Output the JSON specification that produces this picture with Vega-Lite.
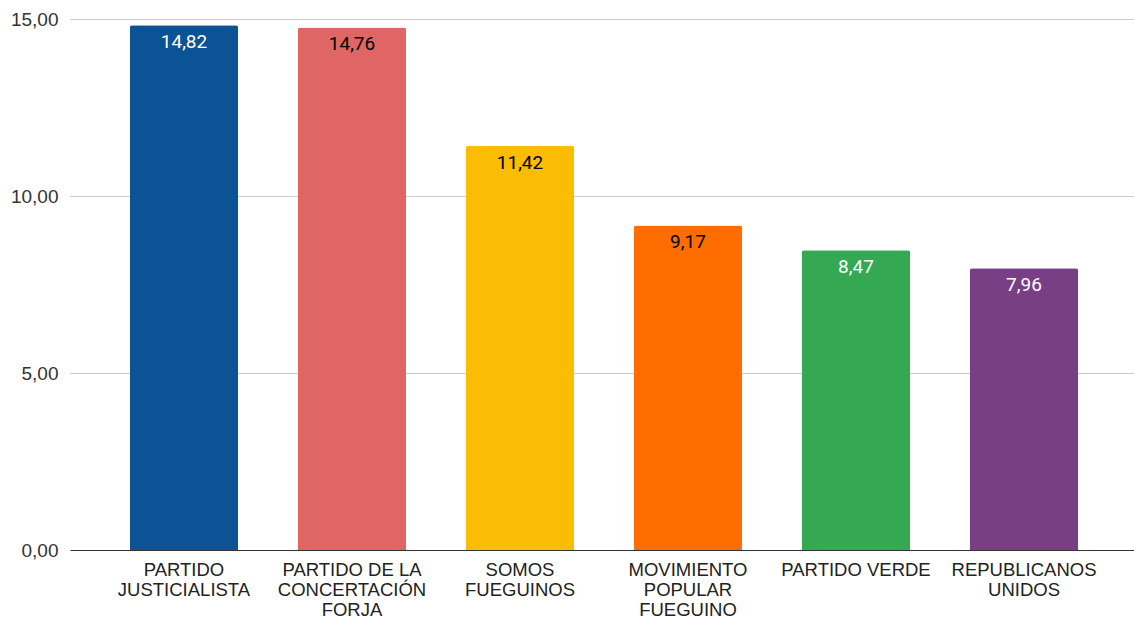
{
  "$schema": "https://vega.github.io/schema/vega-lite/v6.json",
  "autosize": {"type": "none"},
  "width": 1068,
  "height": 531,
  "padding": {"left": 70, "top": 19, "right": 0, "bottom": 71},
  "background": "white",
  "config": {"view": {"stroke": null}},
  "data": {"values": [
    {"partido": "PARTIDO JUSTICIALISTA", "valor": 14.82, "color": "#0b5394", "txt": "white"},
    {"partido": "PARTIDO DE LA CONCERTACIÓN FORJA", "valor": 14.76, "color": "#e06666", "txt": "black"},
    {"partido": "SOMOS FUEGUINOS", "valor": 11.42, "color": "#fbbc04", "txt": "black"},
    {"partido": "MOVIMIENTO POPULAR FUEGUINO", "valor": 9.17, "color": "#ff6d01", "txt": "black"},
    {"partido": "PARTIDO VERDE", "valor": 8.47, "color": "#34a853", "txt": "white"},
    {"partido": "REPUBLICANOS UNIDOS", "valor": 7.96, "color": "#783f84", "txt": "white"}
  ]},
  "encoding": {
    "x": {
      "field": "partido", "type": "nominal", "sort": null,
      "scale": {"paddingInner": 0.357, "paddingOuter": 0.357},
      "axis": {
        "title": null, "labelAngle": 0, "ticks": false, "domainColor": "#333333",
        "labelFont": "Liberation Sans", "labelFontSize": 18.5, "labelColor": "#222222",
        "labelPadding": 10, "labelLineHeight": 20, "labelLimit": 220,
        "labelExpr": "datum.value == 'PARTIDO JUSTICIALISTA' ? ['PARTIDO','JUSTICIALISTA'] : datum.value == 'PARTIDO DE LA CONCERTACIÓN FORJA' ? ['PARTIDO DE LA','CONCERTACIÓN','FORJA'] : datum.value == 'SOMOS FUEGUINOS' ? ['SOMOS','FUEGUINOS'] : datum.value == 'MOVIMIENTO POPULAR FUEGUINO' ? ['MOVIMIENTO','POPULAR','FUEGUINO'] : datum.value == 'REPUBLICANOS UNIDOS' ? ['REPUBLICANOS','UNIDOS'] : datum.value"
      }
    },
    "y": {
      "field": "valor", "type": "quantitative",
      "scale": {"domain": [0, 15], "nice": false},
      "axis": {
        "title": null, "values": [0, 5, 10, 15], "domain": false, "ticks": false,
        "gridColor": "#cccccc", "labelFont": "Liberation Sans", "labelFontSize": 19,
        "labelColor": "#333333", "labelPadding": 12,
        "labelExpr": "replace(format(datum.value, '.2f'), '.', ',')"
      }
    }
  },
  "layer": [
    {
      "mark": {"type": "bar", "cornerRadiusTopLeft": 2, "cornerRadiusTopRight": 2},
      "encoding": {"color": {"field": "color", "type": "nominal", "scale": null}}
    },
    {
      "mark": {"type": "text", "baseline": "middle", "dy": 17, "font": "Roboto", "fontSize": 19,
               "text": {"expr": "replace(format(datum.valor, '.2f'), '.', ',')"}},
      "encoding": {"color": {"field": "txt", "type": "nominal", "scale": null}}
    }
  ]
}
